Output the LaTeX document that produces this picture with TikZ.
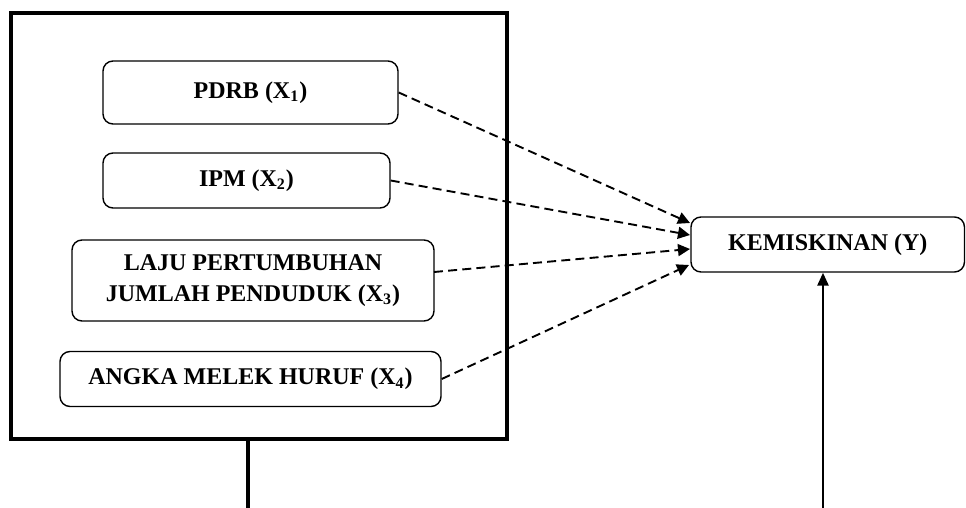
\documentclass[tikz,border=0pt]{standalone}
\usepackage{fontspec}
\setmainfont{Liberation Serif}
\usetikzlibrary{arrows.meta}
\begin{document}
\begin{tikzpicture}[x=0.5pt,y=-0.5pt,
  varbox/.style={draw,rounded corners=5pt,line width=0.7pt,align=center,
    font=\fontsize{12}{15.5}\selectfont\bfseries,inner sep=0pt},
  frame/.style={line width=1.75pt},
  dasharrow/.style={line width=0.95pt,dash pattern=on 4.5pt off 2.6pt,
    -{Triangle[length=6pt,width=6pt]}},
  solidarrow/.style={line width=1.3pt,-{Triangle[length=6.5pt,width=5.5pt]}}]
\useasboundingbox (0,0) rectangle (966,508);
\draw[frame] (11,13) rectangle (507,439);
\node[varbox,minimum width=147.5pt,minimum height=31.5pt] (x1) at (250.5,92.5) {PDRB (X\textsubscript{1})};
\node[varbox,minimum width=143.5pt,minimum height=27.5pt] (x2) at (246.5,180.5) {IPM (X\textsubscript{2})};
\node[varbox,minimum width=181pt,minimum height=40.5pt] (x3) at (253,280.5) {LAJU PERTUMBUHAN\\JUMLAH PENDUDUK (X\textsubscript{3})};
\node[varbox,minimum width=190.5pt,minimum height=27.5pt] (x4) at (250.5,379) {ANGKA MELEK HURUF (X\textsubscript{4})};
\node[varbox,minimum width=136.75pt,minimum height=27.5pt] (y) at (827.75,244.5) {KEMISKINAN (Y)};
\coordinate (t1) at (690,223);
\coordinate (t2) at (690,235);
\coordinate (t3) at (690,249);
\coordinate (t4) at (689,265);
\coordinate (s3) at (434,272);
\draw[dasharrow] (x1.east) -- (t1);
\draw[dasharrow] (x2.east) -- (t2);
\draw[dasharrow] (s3) -- (t3);
\draw[dasharrow] (x4.east) -- (t4);
\coordinate (b1) at (248,439);
\coordinate (b1e) at (248,508);
\draw[frame] (b1) -- (b1e);
\coordinate (b2) at (823,508);
\draw[solidarrow] (b2) -- (b2 |- y.south);
\end{tikzpicture}
\end{document}
